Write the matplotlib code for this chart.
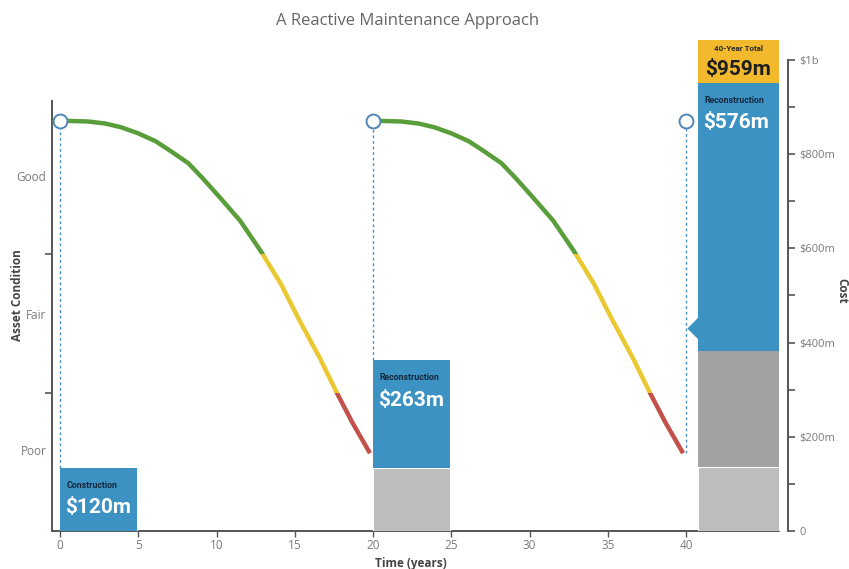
import matplotlib
matplotlib.use("Agg")
import matplotlib.pyplot as plt
import numpy as np
from matplotlib.path import Path as MPath
from matplotlib.patches import Rectangle

# ---- data ----
cycle_years = [0, 1.8, 2.9, 3.9, 5.0, 6.1, 7.1, 8.2, 9.1, 10.2, 11.5, 12.8, 14.1,
               15.3, 16.6, 17.7, 18.7, 19.8]
cycle_condition = [100, 99.8, 99.3, 98.4, 96.9, 95.0, 92.5, 89.6, 86.0, 81.3, 75.6,
                   68.3, 60.2, 51.2, 42.0, 33.4, 26.1, 18.8]
cycle_starts = [0, 20]
rebuild_years = [0, 20, 40]

condition_thresholds = [33.5, 67.5]        # poor | fair | good
condition_labels = ["Poor", "Fair", "Good"]
condition_label_pos = [19.5, 52.9, 86.6]

# cost stacks (millions), one bar per event
bar_left = [0, 20, 40.75]
bar_width = [4.9, 4.9, 5.15]
bar_base_light = [133, 133, 135]       # construction carried forward
bar_base_dark = [0, 0, 246]            # first reconstruction carried forward
bar_blue = [0, 229, 570]               # new spend
bar_titles = ["Construction", "Reconstruction", "Reconstruction"]
bar_values = ["$120m", "$263m", "$576m"]
total_label = "$959m"
total_title = "40-Year Total"
pointer_cost = 430

cost_ticks = [0, 200, 400, 600, 800, 1000]
cost_tick_labels = ["0", "$200m", "$400m", "$600m", "$800m", "$1b"]

BLUE = "#3b92c3"
LIGHT_GRAY = "#bdbdbd"
DARK_GRAY = "#a2a2a2"
GOLD = "#f2b92c"
GREEN = "#5a9d3b"
YELLOW = "#e9c832"
RED = "#c2514a"
DASH = "#4a8fc6"
AXIS = "#555555"
TICK = "#7a7a7a"
BAR_FONT = ["Roboto", "DejaVu Sans"]

plt.rcParams["font.family"] = ["Open Sans", "DejaVu Sans"]

fig = plt.figure(figsize=(8.49, 5.69), dpi=100)
W, H = 849, 569
left, right, bottom, top = 52, 788, 531, 40
ax = fig.add_axes([left / W, 1 - bottom / H, (right - left) / W, (bottom - top) / H])
axc = ax.twinx()

ax.set_xlim(-0.51, 46.5)
ax.set_ylim(-0.2, 119.7)
axc.set_ylim(0, 1042)

# condition curves, coloured by band via clipping
t = np.array(cycle_years)
c = np.array(cycle_condition)
bands = [(-10, condition_thresholds[0], RED),
         (condition_thresholds[0], condition_thresholds[1], YELLOW),
         (condition_thresholds[1], 200, GREEN)]
for s in cycle_starts:
    for lo, hi, col in bands:
        ln, = ax.plot(t + s, c, color=col, lw=3.2, solid_capstyle="butt",
                      solid_joinstyle="round", zorder=3)
        clip = Rectangle((-5, lo), 60, hi - lo, transform=ax.transData)
        ln.set_clip_path(clip)

# cost bars
for i in range(len(bar_left)):
    x0, w = bar_left[i], bar_width[i]
    b = 0
    if bar_base_light[i]:
        axc.bar(x0, bar_base_light[i], w, bottom=b, align="edge", color=LIGHT_GRAY,
                edgecolor="white", linewidth=0.8, zorder=2)
        b += bar_base_light[i]
    if bar_base_dark[i]:
        axc.bar(x0, bar_base_dark[i], w, bottom=b, align="edge", color=DARK_GRAY, zorder=2)
        b += bar_base_dark[i]
    blue_h = bar_blue[i] if bar_blue[i] else bar_base_light[i]
    blue_b = b if bar_blue[i] else 0
    axc.bar(x0, blue_h, w, bottom=blue_b, align="edge", color=BLUE, zorder=2)
    top_cost = blue_b + blue_h
    axc.annotate(bar_titles[i], (x0, top_cost), xytext=(4.5, -12.5), textcoords="offset points",
                 fontsize=6.3, fontweight="bold", color="#14283c", ha="left", va="center",
                 family=BAR_FONT, zorder=5)
    axc.annotate(bar_values[i], (x0, top_cost), xytext=(3.5, -28.5), textcoords="offset points",
                 fontsize=15, fontweight="bold", color="white", ha="left", va="center",
                 family=BAR_FONT, zorder=5)

# total box on the last bar
last_top = bar_base_light[-1] + bar_base_dark[-1] + bar_blue[-1]
axc.bar(bar_left[-1], 1042 - last_top, bar_width[-1], bottom=last_top, align="edge",
        color=GOLD, zorder=2, clip_on=False)
cx = bar_left[-1] + bar_width[-1] / 2
axc.text(cx, 1023, total_title, fontsize=5.8, fontweight="bold", color="#2a2a2a",
         ha="center", va="center", family=BAR_FONT, zorder=5)
axc.text(cx, 979, total_label, fontsize=15, fontweight="bold", color="#1e1e1e",
         ha="center", va="center", family=BAR_FONT, zorder=5)

# pointer on the last bar
tri = MPath([(0, 1), (-1, 0), (0, -1), (0, 1)], [MPath.MOVETO, MPath.LINETO, MPath.LINETO, MPath.CLOSEPOLY])
axc.plot(bar_left[-1] + 0.02, pointer_cost, marker=tri, markersize=16, color=BLUE,
         markeredgewidth=0, zorder=4)

# dashed drop lines and circles
fig.canvas.draw()
to_cost = lambda x, y: axc.transData.inverted().transform(ax.transData.transform((x, y)))[1]
top_c = to_cost(0, 100)
for i, x in enumerate(rebuild_years[:2]):
    bt = bar_base_light[i] + bar_base_dark[i] + (bar_blue[i] if bar_blue[i] else 0)
    axc.plot([x, x], [bt, top_c], color=DASH, lw=1, ls=(0, (2, 2)), zorder=3)
ax.plot([rebuild_years[2], rebuild_years[2]], [cycle_condition[-1], 100], color=DASH,
        lw=1, ls=(0, (2, 2)), zorder=3)
axc.plot(rebuild_years, [top_c] * 3, "o", ms=10, mfc="white", mec="#4f86b5",
         mew=1.4, zorder=6, clip_on=False)

# left axis: condition
for side in ["top", "right"]:
    ax.spines[side].set_visible(False)
ax.spines["left"].set_bounds(-0.2, 104.9)
ax.spines["bottom"].set_bounds(-0.51, 45.9)
for side in ["left", "bottom"]:
    ax.spines[side].set_color(AXIS)
    ax.spines[side].set_linewidth(1.4)
ax.set_yticks(condition_thresholds)
ax.set_yticklabels([])
ax.set_yticks(condition_label_pos, minor=True)
ax.set_yticklabels(condition_labels, minor=True, fontsize=8.5, color=TICK)
ax.tick_params(axis="y", which="major", length=5, width=1.2, color=AXIS)
ax.tick_params(axis="y", which="minor", length=0, pad=4)
ax.set_xticks(range(0, 41, 5))
ax.tick_params(axis="x", length=4, width=1, color=AXIS, labelsize=8.5, labelcolor=TICK, pad=2)
ax.set_ylabel("Asset Condition", fontsize=8.5, fontweight="bold", color="#444444")
ax.yaxis.set_label_coords(-0.038, 0.48)
ax.set_xlabel("Time (years)", fontsize=8.5, fontweight="bold", color="#444444")
ax.xaxis.set_label_coords(0.487, -0.052)

# right axis: cost
for side in ["top", "left", "bottom"]:
    axc.spines[side].set_visible(False)
axc.spines["right"].set_bounds(0, 1000)
axc.spines["right"].set_color(AXIS)
axc.spines["right"].set_linewidth(1.4)
axc.set_yticks(cost_ticks)
axc.set_yticklabels(cost_tick_labels, fontsize=8, color=TICK)
axc.set_yticks([100, 300, 500, 700, 900], minor=True)
axc.tick_params(axis="y", which="both", length=5, width=1.2, color=AXIS, pad=3)
axc.set_ylabel("Cost", fontsize=8.5, fontweight="bold", color="#444444", rotation=270)
axc.yaxis.set_label_coords(1.082, 0.49)

fig.text(408 / W, 1 - 21 / H, "A Reactive Maintenance Approach", fontsize=12,
         color="#666666", ha="center", va="center")

fig.savefig("out.png", dpi=100)
